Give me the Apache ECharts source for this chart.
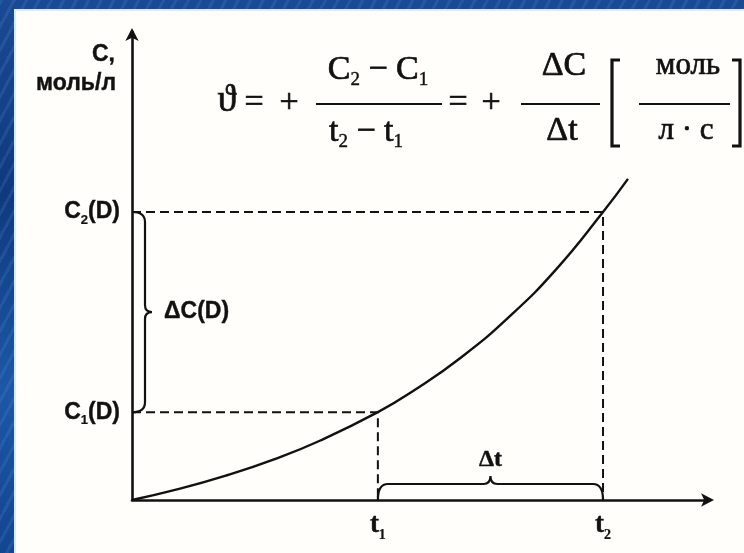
<!DOCTYPE html>
<html>
<head>
<meta charset="utf-8">
<title>Скорость реакции</title>
<script src="https://cdn.jsdelivr.net/npm/echarts@6/dist/echarts.min.js"></script>
<style>
  html, body { margin: 0; padding: 0; }
  #wrap {
    position: relative; width: 744px; height: 553px; overflow: hidden;
    background:
      repeating-linear-gradient(118deg, rgba(90,150,225,0.18) 0 3px, rgba(0,0,0,0) 3px 11px),
      linear-gradient(180deg, #1a4a93 0%, #0f397e 35%, #1d57a5 70%, #144590 100%);
  }
  #sheet {
    position: absolute; left: 14px; top: 9px; right: 0; bottom: 0;
    background: #fffefa;
    border-top: 2px solid #d6ecf8; border-left: 2px solid #d6ecf8;
  }
  #chart { position: absolute; left: 0; top: 0; width: 744px; height: 553px; }
</style>
</head>
<body>
<div id="wrap">
  <div id="sheet"></div>
  <div id="chart"></div>
</div>
<script>
// Concentration of D over time (arbitrary units)
const times = [0, 1, 2, 3, 4, 5.22, 6, 7, 8, 9, 10, 10.53];
const conc  = [0, 0.23, 0.51, 0.84, 1.24, 1.83, 2.29, 2.98, 3.81, 4.80, 6.0, 6.69];

// Marked instants and concentrations
const tMarks = [5.22, 10];      // t1, t2
const cMarks = [1.83, 6.0];     // C1(D), C2(D)
const tNames = ['1', '2'];
const cNames = ['1', '2'];

const INK = '#111111';
const SANS = '"Liberation Sans", Arial, sans-serif';
const SERIF = '"Liberation Serif", "Times New Roman", serif';

const chart = echarts.init(document.getElementById('chart'), null, { renderer: 'canvas' });

// rich label styles (series labels): main glyphs plus a lowered subscript
const labelRich = (size, sub, family, weight, stroke) => ({
  m: { fontFamily: family, fontSize: size, fontWeight: weight, color: INK, lineHeight: size + 6,
       textBorderColor: INK, textBorderWidth: stroke },
  s: { fontFamily: family, fontSize: sub, fontWeight: weight, color: INK, lineHeight: sub + 2,
       verticalAlign: 'bottom', textBorderColor: INK, textBorderWidth: stroke * 0.6 }
});

// rich styles for free-standing graphic text
const graphicRich = (size, sub, family, stroke) => ({
  m: { fontFamily: family, fontSize: size, fill: INK, lineHeight: size + 6, stroke: INK, lineWidth: stroke },
  s: { fontFamily: family, fontSize: sub, fill: INK, lineHeight: sub + 2, verticalAlign: 'bottom',
       stroke: INK, lineWidth: stroke * 0.6 }
});

const serifText = (x, y, text, size) => ({
  type: 'text', x: x, y: y, silent: true,
  style: { text: text, font: size + 'px ' + SERIF, fill: INK, align: 'center', verticalAlign: 'middle',
           stroke: INK, lineWidth: 0.7 }
});

const hLine = (x1, x2, y) => ({
  type: 'line', silent: true,
  shape: { x1: x1, y1: y, x2: x2, y2: y },
  style: { stroke: INK, lineWidth: 2.2 }
});

const fracRich = graphicRich(34, 19, SERIF, 0.7);

const option = {
  animation: false,
  backgroundColor: 'transparent',
  grid: { left: 132, top: 32, width: 577, height: 468 },
  xAxis: {
    type: 'value', min: 0, max: 12.25,
    axisLine: { show: true, onZero: true, symbol: ['none', 'arrow'], symbolSize: [10, 13], symbolOffset: [0, 5],
                lineStyle: { color: INK, width: 2.6 } },
    axisTick: { show: false }, axisLabel: { show: false }, splitLine: { show: false }
  },
  yAxis: {
    type: 'value', min: 0, max: 9.75,
    axisLine: { show: true, symbol: ['none', 'arrow'], symbolSize: [10, 13], symbolOffset: [0, 4],
                lineStyle: { color: INK, width: 2.6 } },
    axisTick: { show: false }, axisLabel: { show: false }, splitLine: { show: false }
  },
  series: [
    {
      type: 'line', smooth: true, symbol: 'none', z: 4,
      data: times.map((t, i) => [t, conc[i]]),
      lineStyle: { color: INK, width: 2.4 }
    },
    {
      type: 'line', symbol: 'none', z: 3,
      data: [[0, cMarks[1]], [tMarks[1], cMarks[1]], [tMarks[1], 0]],
      lineStyle: { color: INK, width: 2, type: [9, 5] }
    },
    {
      type: 'line', symbol: 'none', z: 3,
      data: [[0, cMarks[0]], [tMarks[0], cMarks[0]], [tMarks[0], 0]],
      lineStyle: { color: INK, width: 2, type: [9, 5] }
    },
    {
      // concentration labels on the vertical axis
      type: 'scatter', symbolSize: 0, silent: true, itemStyle: { opacity: 1 },
      data: cMarks.map((c, i) => [0, c, cNames[i]]),
      label: {
        show: true, position: 'left', distance: 12, color: INK,
        formatter: p => '{m|C}{s|' + p.value[2] + '}{m|(D)}',
        rich: labelRich(23, 13, SANS, 'bold', 0.4)
      }
    },
    {
      // time labels under the horizontal axis
      type: 'scatter', symbolSize: 0, silent: true, itemStyle: { opacity: 1 },
      data: tMarks.map((t, i) => [t, 0, tNames[i]]),
      label: {
        show: true, position: 'bottom', distance: 9, color: INK,
        formatter: p => '{m|t}{s|' + p.value[2] + '}',
        rich: labelRich(27, 14, SERIF, 'bold', 0.4)
      }
    },
    {
      // braces for ΔC(D) and Δt
      type: 'custom', silent: true, z: 5,
      data: [[tMarks[0], tMarks[1], cMarks[0], cMarks[1]]],
      renderItem: function (params, api) {
        const pTop = api.coord([0, api.value(3)]);
        const pBot = api.coord([0, api.value(2)]);
        const pL = api.coord([api.value(0), 0]);
        const pR = api.coord([api.value(1), 0]);
        const x = pTop[0], yT = pTop[1], yB = pBot[1], yM = (yT + yB) / 2;
        const w = 13, tip = 20;
        const vPath =
          'M' + x + ' ' + yT +
          ' Q' + (x + w) + ' ' + yT + ' ' + (x + w) + ' ' + (yT + 10) +
          ' L' + (x + w) + ' ' + (yM - 7) +
          ' Q' + (x + w) + ' ' + yM + ' ' + (x + tip) + ' ' + yM +
          ' Q' + (x + w) + ' ' + yM + ' ' + (x + w) + ' ' + (yM + 7) +
          ' L' + (x + w) + ' ' + (yB - 10) +
          ' Q' + (x + w) + ' ' + yB + ' ' + x + ' ' + yB;
        const y0 = pL[1], xL = pL[0], xR = pR[0], xM = (xL + xR) / 2;
        const h = 16, tipH = 24;
        const hPath =
          'M' + xL + ' ' + y0 +
          ' Q' + xL + ' ' + (y0 - h) + ' ' + (xL + 10) + ' ' + (y0 - h) +
          ' L' + (xM - 7) + ' ' + (y0 - h) +
          ' Q' + xM + ' ' + (y0 - h) + ' ' + xM + ' ' + (y0 - tipH) +
          ' Q' + xM + ' ' + (y0 - h) + ' ' + (xM + 7) + ' ' + (y0 - h) +
          ' L' + (xR - 10) + ' ' + (y0 - h) +
          ' Q' + xR + ' ' + (y0 - h) + ' ' + xR + ' ' + y0;
        return {
          type: 'group',
          children: [
            { type: 'path', shape: { pathData: vPath }, style: { fill: 'none', stroke: INK, lineWidth: 2.2 } },
            { type: 'path', shape: { pathData: hPath }, style: { fill: 'none', stroke: INK, lineWidth: 2.2 } },
            { type: 'text', x: x + tip + 12, y: yM,
              style: { text: 'ΔC(D)', font: 'bold 23px ' + SANS, fill: INK, align: 'left', verticalAlign: 'middle',
                       stroke: INK, lineWidth: 0.4 } },
            { type: 'text', x: xM, y: y0 - tipH - 16,
              style: { text: 'Δt', font: 'bold 24px ' + SERIF, fill: INK, align: 'center', verticalAlign: 'middle',
                       stroke: INK, lineWidth: 0.4 } }
          ]
        };
      }
    }
  ],
  graphic: {
    elements: [
      // axis title
      { type: 'text', x: 115, y: 55, silent: true,
        style: { text: 'C,', font: 'bold 23px ' + SANS, fill: INK, align: 'right', verticalAlign: 'middle',
                 stroke: INK, lineWidth: 0.4 } },
      { type: 'text', x: 116, y: 84, silent: true,
        style: { text: 'моль/л', font: 'bold 23px ' + SANS, fill: INK, align: 'right', verticalAlign: 'middle',
                 stroke: INK, lineWidth: 0.4 } },
      // rate formula
      serifText(227, 101, 'ϑ', 38),
      serifText(254, 103, '=', 34),
      serifText(289, 103, '+', 34),
      hLine(316, 442, 104),
      { type: 'text', x: 378, y: 70, silent: true,
        style: { text: '{m|C}{s|2}{m| − C}{s|1}', rich: fracRich, align: 'center', verticalAlign: 'middle' } },
      { type: 'text', x: 366, y: 132, silent: true,
        style: { text: '{m|t}{s|2}{m| − t}{s|1}', rich: fracRich, align: 'center', verticalAlign: 'middle' } },
      serifText(458, 103, '=', 34),
      serifText(491, 103, '+', 34),
      hLine(521, 600, 104),
      serifText(564, 66, 'ΔC', 34),
      serifText(562, 131, 'Δt', 34),
      { type: 'polyline', silent: true, shape: { points: [[620, 60], [612, 60], [612, 146], [620, 146]] },
        style: { fill: 'none', stroke: INK, lineWidth: 3.2 } },
      serifText(688, 66, 'моль', 31),
      hLine(639, 730, 104),
      serifText(686, 131, 'л · с', 31),
      { type: 'polyline', silent: true, shape: { points: [[732, 60], [740, 60], [740, 146], [732, 146]] },
        style: { fill: 'none', stroke: INK, lineWidth: 3.2 } }
    ]
  }
};

chart.setOption(option);
</script>
</body>
</html>
